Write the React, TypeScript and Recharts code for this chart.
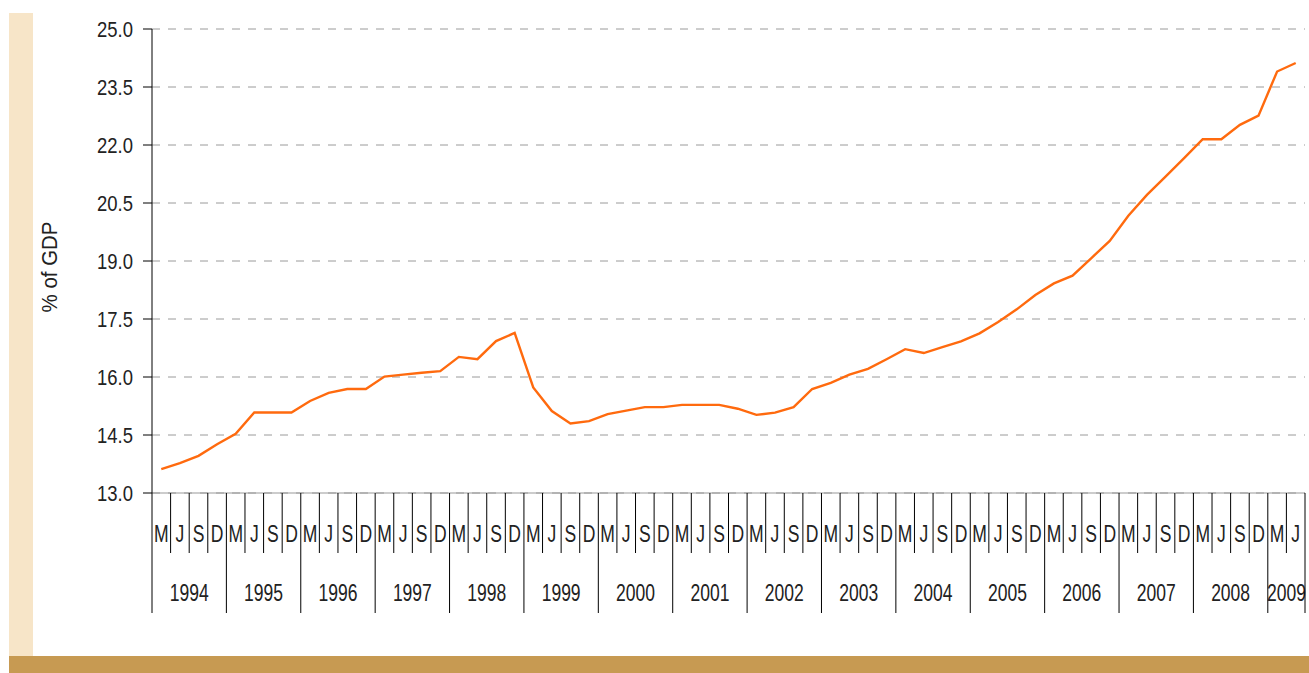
import React from 'react';
import { LineChart, Line, XAxis, YAxis, CartesianGrid } from 'recharts';

const years = ['1994', '1995', '1996', '1997', '1998', '1999', '2000', '2001', '2002', '2003', '2004', '2005', '2006', '2007', '2008', '2009'];
const quarterLabels = ['M', 'J', 'S', 'D'];
const yTicks = [13.0, 14.5, 16.0, 17.5, 19.0, 20.5, 22.0, 23.5, 25.0];

// % of GDP, quarterly (M, J, S, D)
const values = [
  13.62, 13.77, 13.96, 14.26, // 1994
  14.53, 15.08, 15.08, 15.08, // 1995
  15.38, 15.59, 15.69, 15.69, // 1996
  16.01, 16.06, 16.11, 16.15, // 1997
  16.52, 16.46, 16.93, 17.14, // 1998
  15.73, 15.12, 14.80, 14.86, // 1999
  15.04, 15.13, 15.22, 15.22, // 2000
  15.28, 15.28, 15.28, 15.18, // 2001
  15.02, 15.08, 15.22, 15.69, // 2002
  15.85, 16.06, 16.21, 16.46, // 2003
  16.72, 16.62, 16.77, 16.92, // 2004
  17.13, 17.42, 17.75, 18.12, // 2005
  18.42, 18.62, 19.07, 19.52, // 2006
  20.17, 20.71, 21.18, 21.66, // 2007
  22.15, 22.15, 22.52, 22.76, // 2008
  23.90, 24.12,               // 2009
];

const data = values.map((v, i) => ({
  period: years[Math.floor(i / 4)] + ' ' + quarterLabels[i % 4],
  value: v,
}));

const W = 1309;
const H = 673;
const PLOT_LEFT = 152;
const PLOT_RIGHT = 1305;
const PLOT_TOP = 29;
const PLOT_BOTTOM = 493;
const Y_AXIS_W = 100;
const X_AXIS_H = 120;
const BW = (PLOT_RIGHT - PLOT_LEFT) / values.length;
const Q_LINE_END = 553;
const YEAR_LINE_END = 613;
const Q_TEXT_Y = 542;
const YEAR_TEXT_Y = 601;

const FONT = "'Liberation Sans', Arial, sans-serif";
const TEXT_FILL = '#222';

const NarrowText = (p: { x: number; y: number; size: number; sx: number; anchor: string; children: any }) => (
  <text
    transform={`translate(${p.x},${p.y}) scale(${p.sx},1)`}
    x={0}
    y={0}
    textAnchor={p.anchor}
    fontSize={p.size}
    fontFamily={FONT}
    fill={TEXT_FILL}
  >
    {p.children}
  </text>
);

const QuarterTick = (props: any) => {
  const { x, index } = props;
  const q = index % 4;
  const yearIdx = Math.floor(index / 4);
  const left = x - BW / 2;
  const nInYear = Math.min(4, values.length - yearIdx * 4);
  const isLast = index === values.length - 1;
  return (
    <g>
      <line x1={left} x2={left} y1={PLOT_BOTTOM} y2={q === 0 ? YEAR_LINE_END : Q_LINE_END} stroke="#000" strokeWidth={1} />
      <NarrowText x={x} y={Q_TEXT_Y} size={24} sx={0.73} anchor="middle">
        {quarterLabels[q]}
      </NarrowText>
      {q === 1 && (
        <NarrowText x={x + ((nInYear - 3) / 2) * BW} y={YEAR_TEXT_Y} size={24} sx={0.73} anchor="middle">
          {years[yearIdx]}
        </NarrowText>
      )}
      {isLast && (
        <line x1={x + BW / 2} x2={x + BW / 2} y1={PLOT_BOTTOM} y2={YEAR_LINE_END} stroke="#000" strokeWidth={1} />
      )}
    </g>
  );
};

const ValueTick = (props: any) => {
  const { x, y, payload } = props;
  return (
    <NarrowText x={x} y={y + 8} size={22} sx={0.84} anchor="end">
      {Number(payload.value).toFixed(1)}
    </NarrowText>
  );
};

const YLabel = (props: any) => {
  const vb = props.viewBox || { x: PLOT_LEFT - Y_AXIS_W, y: PLOT_TOP, width: Y_AXIS_W, height: PLOT_BOTTOM - PLOT_TOP };
  const cx = vb.x - 2;
  const cy = vb.y + vb.height / 2 + 6;
  return (
    <text
      transform={`translate(${cx},${cy}) rotate(-90) scale(0.93,1)`}
      x={0}
      y={0}
      textAnchor="middle"
      dominantBaseline="central"
      fontSize={22}
      fontFamily={FONT}
      fill={TEXT_FILL}
    >
      % of GDP
    </text>
  );
};

export default function App() {
  return (
    <div style={{ position: 'absolute', left: 0, top: 0, width: W, height: H, background: '#fff', overflow: 'hidden' }}>
      <div style={{ position: 'absolute', left: 9, top: 13, width: 24, height: 643, background: '#F7E5C8' }} />
      <div style={{ position: 'absolute', left: 9, top: 656, width: W - 9, height: 17, background: '#C79A52' }} />
      <div style={{ position: 'absolute', left: 0, top: 0 }}>
        <LineChart
          width={W}
          height={H}
          data={data}
          margin={{ top: PLOT_TOP, right: W - PLOT_RIGHT, left: PLOT_LEFT - Y_AXIS_W, bottom: H - PLOT_BOTTOM - X_AXIS_H }}
        >
          <CartesianGrid vertical={false} stroke="#9a9a9a" strokeDasharray="8 8" />
          <XAxis
            dataKey="period"
            scale="band"
            interval={0}
            height={X_AXIS_H}
            tickLine={false}
            axisLine={{ stroke: '#999' }}
            tick={<QuarterTick />}
          />
          <YAxis
            domain={[13, 25]}
            ticks={yTicks}
            interval={0}
            width={Y_AXIS_W}
            axisLine={{ stroke: '#000' }}
            tickLine={{ stroke: '#000' }}
            tickSize={9}
            tickMargin={10}
            tick={<ValueTick />}
            label={{ content: <YLabel /> } as any}
          />
          <Line
            type="linear"
            dataKey="value"
            stroke="#FF6A0E"
            strokeWidth={2.4}
            dot={false}
            isAnimationActive={false}
          />
        </LineChart>
      </div>
    </div>
  );
}
